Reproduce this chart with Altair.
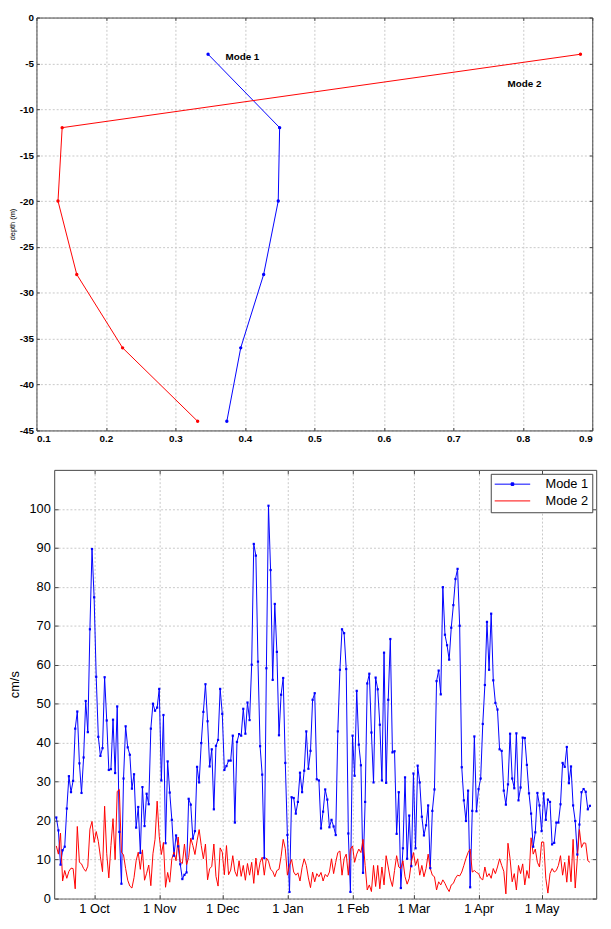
import altair as alt
import pandas as pd

FONT = "Liberation Sans"
FRAME = "#444444"
GRID = "#c8c8c8"
BLUE = "#0000ff"
RED = "#ff0000"

# ---------------- top panel: vertical structure of the modes ----------------
depth_m = [-4, -12, -20, -28, -36, -44]
mode1_profile = [0.347, 0.450, 0.448, 0.427, 0.394, 0.374]
mode2_profile = [0.883, 0.137, 0.131, 0.158, 0.224, 0.332]
annot_labels = ["Mode 1", "Mode 2"]
annot_amp = [0.372, 0.778]
annot_depth = [-4.3, -7.2]
amp_ticks = [0.1, 0.2, 0.3, 0.4, 0.5, 0.6, 0.7, 0.8, 0.9]
depth_ticks = [-45, -40, -35, -30, -25, -20, -15, -10, -5, 0]

# ---------------- bottom panel: daily mode amplitudes (cm/s) ----------------
series_names = ["Mode 1", "Mode 2"]
series_colors = [BLUE, RED]
first_day = "2003-09-13"

mode1_sep = [20.8, 17.5, 8.7, 12.4, 13.3, 23.1, 31.4, 27.3, 30.2, 43.6, 48.0, 34.7, 27.1, 36.2, 50.7, 42.7, 69.1, 89.7]
mode1_oct = [77.3, 56.9, 41.5, 36.6, 38.6, 56.8, 45.7, 33.0, 33.2, 45.9, 32.2, 49.3, 17.1, 3.8, 30.8, 44.2, 38.8, 36.9,
             28.2, 31.9, 18.2, 23.5, 11.7, 28.6, 18.6, 26.9, 24.2, 43.6, 50.0, 48.2, 49.0]
mode1_nov = [53.8, 30.3, 47.1, 14.2, 35.2, 27.2, 20.2, 11.0, 16.2, 13.4, 8.8, 5.0, 6.1, 6.7, 25.6, 24.1, 15.4, 17.3,
             33.8, 29.8, 39.9, 47.9, 55.0, 45.5, 33.9, 38.3, 22.9, 39.2, 40.7, 53.8]
mode1_dec = [47.4, 33.0, 34.0, 35.4, 35.4, 41.8, 19.5, 40.2, 42.2, 41.8, 48.7, 42.3, 50.3, 45.8, 60.0, 91.0, 88.0, 60.8,
             39.1, 31.8, 10.4, 59.1, 100.8, 84.3, 56.1, 75.6, 63.3, 41.9, 52.3, 56.6, 34.8]
mode1_jan = [16.3, 1.7, 26.0, 25.8, 21.8, 24.8, 32.3, 27.3, 32.8, 42.9, 33.3, 37.9, 51.0, 52.7, 30.6, 30.3, 18.0, 22.3,
             28.0, 25.4, 18.3, 20.2, 18.5, 16.3, 42.9, 58.7, 69.1, 68.1, 58.9, 16.7, 1.7]
mode1_feb = [41.8, 31.5, 53.3, 39.5, 34.2, 6.6, 24.8, 55.2, 57.7, 42.6, 29.8, 56.7, 53.7, 44.6, 30.3, 63.1, 29.7, 51.0,
             66.6, 37.5, 37.8, 16.6, 27.3, 2.7, 12.9, 31.1, 10.2, 21.3, 8.3]
mode1_mar = [32.1, 12.9, 34.1, 29.8, 21.0, 16.2, 18.8, 23.9, 7.8, 22.5, 28.0, 55.8, 58.5, 52.4, 79.9, 67.7, 65.0, 61.3,
             69.5, 75.3, 82.0, 84.6, 70.0, 33.7, 25.2, 19.9, 27.7, 2.9, 22.5, 41.6, 22.4]
mode1_apr = [28.1, 30.8, 44.8, 54.8, 71.0, 58.7, 73.1, 56.0, 50.2, 48.5, 38.3, 37.9, 27.7, 24.1, 29.3, 42.3, 30.8, 28.3,
             42.4, 25.2, 28.5, 41.3, 41.2, 34.3, 27.0, 21.8, 13.3, 17.0, 27.1, 23.9]
mode1_may = [17.3, 27.0, 20.2, 25.4, 24.8, 13.9, 14.3, 19.5, 19.5, 24.2, 34.8, 33.8, 38.9, 29.6, 33.9, 23.9, 19.9, 11.3,
             19.0, 27.3, 28.1, 27.4, 22.9, 23.8]

mode2_sep = [13.5, 11.4, 16.8, 4.5, 7.2, 5.2, 7.0, 7.8, 7.7, 2.5, 18.5, 9.3, 8.9, 7.7, 7.0, 8.3, 17.8, 19.8]
mode2_oct = [14.4, 17.2, 14.7, 10.7, 6.9, 23.7, 11.5, 5.3, 13.6, 20.5, 10.0, 27.5, 28.0, 11.9, 11.2, 7.7, 4.7, 3.2,
             2.7, 5.4, 9.7, 11.9, 7.5, 12.5, 4.7, 6.5, 8.6, 3.3, 11.5, 15.2, 25.0]
mode2_nov = [16.0, 11.3, 14.4, 2.9, 6.7, 4.2, 10.2, 11.9, 9.7, 15.8, 9.4, 9.0, 14.0, 8.7, 10.5, 15.5, 13.6, 11.3,
             14.8, 17.7, 13.6, 10.2, 14.0, 4.8, 7.7, 8.2, 14.0, 5.7, 3.2, 13.0]
mode2_dec = [11.9, 6.1, 13.6, 6.1, 7.3, 11.0, 7.0, 5.7, 9.7, 5.7, 8.5, 4.7, 9.0, 6.0, 9.3, 3.9, 10.4, 6.0,
             9.3, 10.6, 6.0, 10.4, 9.6, 7.5, 7.0, 5.6, 7.2, 7.5, 10.8, 15.2, 12.8]
mode2_jan = [6.0, 8.5, 10.0, 6.8, 6.0, 6.6, 4.5, 8.0, 10.2, 8.5, 5.3, 2.8, 6.8, 4.3, 6.4, 5.6, 6.7, 4.5,
             6.2, 5.6, 6.8, 10.2, 6.4, 9.3, 11.8, 12.2, 6.0, 10.2, 11.4, 6.0, 12.7]
mode2_feb = [13.5, 9.3, 11.4, 12.7, 11.8, 15.2, 8.5, 2.2, 3.5, 1.8, 8.5, 3.1, 8.5, 2.5, 8.1, 3.5, 11.0, 8.1,
             5.0, 3.1, 7.2, 11.0, 8.1, 7.7, 9.7, 5.6, 3.7, 5.2, 9.3]
mode2_mar = [11.8, 8.5, 10.2, 6.0, 8.5, 5.6, 7.7, 11.4, 7.7, 6.0, 5.6, 2.2, 4.3, 3.5, 4.8, 3.9, 2.7, 1.8,
             3.5, 3.9, 5.2, 6.0, 5.8, 6.8, 8.5, 10.3, 11.8, 12.7, 6.8, 7.2, 6.7]
mode2_apr = [6.4, 5.2, 4.8, 8.1, 5.6, 6.4, 5.2, 7.7, 6.4, 8.1, 10.2, 8.5, 7.0, 1.2, 14.2, 10.2, 4.3, 6.4,
             2.2, 8.5, 6.4, 8.9, 3.5, 7.2, 5.2, 15.6, 11.4, 12.7, 9.3, 8.1]
mode2_may = [14.5, 14.5, 5.2, 1.4, 6.4, 7.7, 6.8, 7.2, 8.5, 11.0, 6.0, 9.3, 4.2, 11.0, 4.3, 15.2, 2.7, 10.2,
             17.7, 13.1, 14.3, 14.2, 9.7, 9.3]

speed_ticks = [0, 10, 20, 30, 40, 50, 60, 70, 80, 90, 100]
month_ticks = [(2003, 10), (2003, 11), (2003, 12), (2004, 1), (2004, 2), (2004, 3), (2004, 4), (2004, 5)]
legend_shapes = ["M-3,0H3M-0.22,-0.22H0.22V0.22H-0.22Z", "M-3,0H3"]

# ---------------- tables ----------------
profile = pd.DataFrame({
    "amp": mode1_profile + mode2_profile,
    "depth": depth_m + depth_m,
    "mode": [series_names[0]] * len(depth_m) + [series_names[1]] * len(depth_m),
    "order": list(range(len(depth_m))) * 2,
})
annot = pd.DataFrame({"label": annot_labels, "amp": annot_amp, "depth": annot_depth})

mode1_speed = mode1_sep + mode1_oct + mode1_nov + mode1_dec + mode1_jan + mode1_feb + mode1_mar + mode1_apr + mode1_may
mode2_speed = mode2_sep + mode2_oct + mode2_nov + mode2_dec + mode2_jan + mode2_feb + mode2_mar + mode2_apr + mode2_may
days1 = pd.date_range(first_day, periods=len(mode1_speed), freq="D").strftime("%Y-%m-%dT00:00:00").tolist()
days2 = pd.date_range(first_day, periods=len(mode2_speed), freq="D").strftime("%Y-%m-%dT00:00:00").tolist()
ts = pd.DataFrame({
    "date": days1 + days2,
    "speed": mode1_speed + mode2_speed,
    "series": [series_names[0]] * len(mode1_speed) + [series_names[1]] * len(mode2_speed),
})


def deco_axis(orient, values, offset=0, tick=0, domain=False, grid=False):
    """Axis used only as frame line, grid or inward tick marks; takes no layout space."""
    kw = dict(orient=orient, offset=offset, values=values, labels=False, title=None,
              domain=domain, domainColor=FRAME, domainWidth=1, minExtent=0, maxExtent=0)
    if grid:
        kw.update(grid=True, gridColor=GRID, gridDash=[2, 2], gridWidth=1)
    else:
        kw.update(grid=False)
    if tick > 0:
        kw.update(ticks=True, tickSize=tick, tickColor=FRAME, tickWidth=1)
    else:
        kw.update(ticks=False)
    return alt.Axis(**kw)


# ---------------- top panel ----------------
TOP_W, TOP_H = 546, 419
LEFT_SHIFT = 18
top_x_scale = alt.Scale(domain=[0.1, 0.9], range=[-LEFT_SHIFT, TOP_W], nice=False, zero=False)
top_y_scale = alt.Scale(domain=[-45, 0], nice=False, zero=False)
top_color = alt.Scale(domain=series_names, range=series_colors)

top_x_main = alt.Axis(
    orient="bottom", values=amp_ticks, format=".1f", title=None, grid=True, gridColor=GRID,
    gridDash=[2, 2], ticks=False, tickSize=0, domain=True, domainColor=FRAME, labelFontSize=10,
    labelFontWeight="bold", labelPadding=3, labelOverlap=False, minExtent=0)
top_y_labels = alt.Axis(
    orient="left", offset=LEFT_SHIFT, values=depth_ticks, labelExpr="'' + datum.value", title="depth (m)",
    titleFontSize=7.5, titleFontWeight="normal", titlePadding=2.5, grid=False,
    ticks=False, tickSize=0, domain=True, domainColor=FRAME, labelFontSize=10,
    labelFontWeight="bold", labelPadding=3, labelOverlap=False, minExtent=0)

top_lines = alt.Chart(profile).mark_line(strokeWidth=1).encode(
    x=alt.X("amp:Q", scale=top_x_scale, axis=top_x_main),
    y=alt.Y("depth:Q", scale=top_y_scale, axis=deco_axis("left", depth_ticks, grid=True)),
    color=alt.Color("mode:N", scale=top_color, legend=None),
    order="order:Q",
)
top_points = alt.Chart(profile).mark_circle(size=12, opacity=1).encode(
    x=alt.X("amp:Q", scale=top_x_scale, axis=deco_axis("top", amp_ticks, domain=True)),
    y=alt.Y("depth:Q", scale=top_y_scale, axis=deco_axis("right", depth_ticks, domain=True)),
    color=alt.Color("mode:N", scale=top_color, legend=None),
)
top_text = alt.Chart(annot).mark_text(align="left", baseline="middle", font=FONT, fontSize=10,
                                      fontWeight="bold", color="black").encode(
    x=alt.X("amp:Q", scale=top_x_scale, axis=deco_axis("bottom", amp_ticks, offset=-3, tick=3)),
    y=alt.Y("depth:Q", scale=top_y_scale, axis=top_y_labels),
    text="label:N",
)
top_ticks_a = alt.Chart(profile).mark_point(opacity=0).encode(
    x=alt.X("amp:Q", scale=top_x_scale, axis=deco_axis("top", amp_ticks, offset=-3, tick=3)),
    y=alt.Y("depth:Q", scale=top_y_scale, axis=deco_axis("right", depth_ticks, offset=-3, tick=3)),
)
top_ticks_b = alt.Chart(profile).mark_point(opacity=0).encode(
    x=alt.X("amp:Q", scale=top_x_scale, axis=None),
    y=alt.Y("depth:Q", scale=top_y_scale, axis=deco_axis("left", depth_ticks, offset=LEFT_SHIFT - 3, tick=3)),
)
top = alt.layer(top_lines, top_points, top_text, top_ticks_a, top_ticks_b).resolve_axis(
    x="independent", y="independent"
).properties(width=TOP_W, height=TOP_H, view=alt.ViewBackground(stroke="transparent"))

# ---------------- bottom panel ----------------
BOT_W, BOT_H = 550, 435
date_scale = alt.Scale(domain=[alt.DateTime(year=2003, month=9, date=12),
                               alt.DateTime(year=2004, month=5, date=27)])
speed_scale = alt.Scale(domain=[0, 110], nice=False, zero=True)
month_values = [alt.DateTime(year=y, month=m, date=1) for y, m in month_ticks]
color_scale = alt.Scale(domain=series_names, range=series_colors)
shape_scale = alt.Scale(domain=series_names, range=legend_shapes)

legend = alt.Legend(
    title=None, orient="top-right", offset=4, direction="vertical",
    fillColor="white", strokeColor=FRAME, padding=4, cornerRadius=0,
    labelFont=FONT, labelFontSize=13, labelColor="black", labelLimit=0,
    symbolSize=144, symbolStrokeWidth=1, symbolOffset=11.5, labelOffset=27, rowPadding=3,
)

main_x_axis = alt.Axis(orient="bottom", values=month_values, format="%-d %b", title=None, grid=True,
                       gridColor=GRID, gridDash=[2, 2], ticks=False, tickSize=0, domain=False,
                       labelFontSize=13, labelPadding=4, labelOverlap=False, minExtent=0)
main_y_axis = alt.Axis(orient="left", values=speed_ticks, title="cm/s", titleFontSize=13,
                       titleFontWeight="normal", titlePadding=8, grid=True, gridColor=GRID,
                       gridDash=[2, 2], ticks=False, tickSize=0, domain=False, labelFontSize=13,
                       labelPadding=4, labelOverlap=False, minExtent=0)

b_lines = alt.Chart(ts).mark_line(strokeWidth=1).encode(
    x=alt.X("date:T", scale=date_scale, axis=main_x_axis),
    y=alt.Y("speed:Q", scale=speed_scale, axis=main_y_axis),
    color=alt.Color("series:N", scale=color_scale, legend=legend),
)
b_points = alt.Chart(ts).transform_filter(alt.datum.series == series_names[0]).mark_square(
    size=5, opacity=1
).encode(
    x=alt.X("date:T", scale=date_scale, axis=deco_axis("top", month_values, offset=-4, tick=4)),
    y=alt.Y("speed:Q", scale=speed_scale, axis=deco_axis("right", speed_ticks, offset=-4, tick=4)),
    color=alt.Color("series:N", scale=color_scale, legend=legend),
)
b_helper = alt.Chart(ts).transform_filter("false").mark_point(filled=False, strokeWidth=1).encode(
    x=alt.X("date:T", scale=date_scale, axis=deco_axis("bottom", month_values, offset=-4, tick=4)),
    y=alt.Y("speed:Q", scale=speed_scale, axis=deco_axis("left", speed_ticks, offset=-4, tick=4)),
    color=alt.Color("series:N", scale=color_scale, legend=legend),
    shape=alt.Shape("series:N", scale=shape_scale, legend=legend),
)
bottom = alt.layer(b_lines, b_points, b_helper).resolve_axis(
    x="independent", y="independent"
).properties(width=BOT_W, height=BOT_H)

chart = alt.vconcat(top, bottom, spacing=25).resolve_scale(
    color="independent", shape="independent"
).properties(
    padding={"left": 7, "top": 5, "right": 0, "bottom": 0}
).configure_view(
    stroke=FRAME, strokeWidth=1
).configure_axis(
    labelFont=FONT, titleFont=FONT, labelColor="black", titleColor="black"
)

chart.save("out.html", embed_options={"renderer": "svg", "actions": False})
